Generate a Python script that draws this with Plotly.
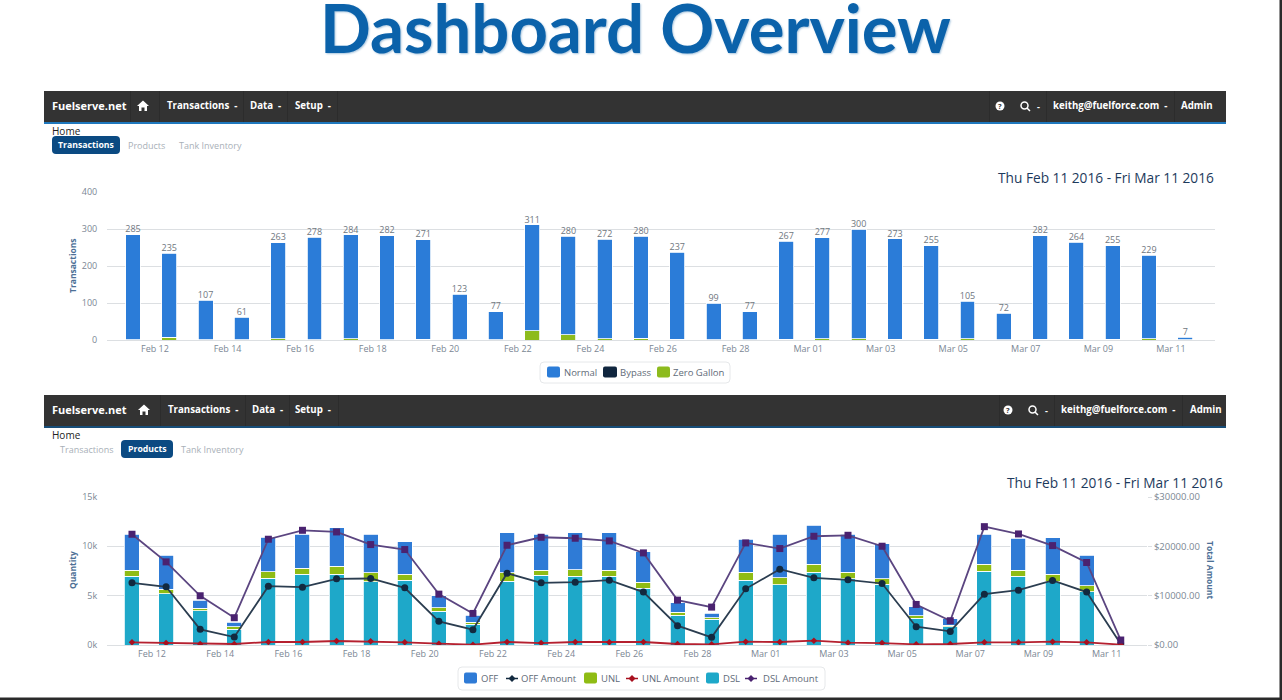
# Fuelserve dashboard overview: transactions and products charts

import plotly.graph_objects as go
from plotly.subplots import make_subplots

W, H = 1282, 700

day_index = list(range(30))
date_labels = ["Feb 12", "Feb 14", "Feb 16", "Feb 18", "Feb 20", "Feb 22", "Feb 24", "Feb 26", "Feb 28",
               "Mar 01", "Mar 03", "Mar 05", "Mar 07", "Mar 09", "Mar 11"]
label_days = [1, 3, 5, 7, 9, 11, 13, 15, 17, 19, 21, 23, 25, 27, 29]

# transactions chart
totals = [285, 235, 107, 61, 263, 278, 284, 282, 271, 123, 77, 311, 280, 272, 280, 237, 99, 77, 267, 277,
          300, 273, 255, 105, 72, 282, 264, 255, 229, 7]
zero_gallon = [1, 7, 1, 1, 3, 1, 3, 1, 2, 1, 1, 25, 14, 3, 5, 2, 1, 1, 2, 3, 3, 2, 2, 4, 1, 2, 2, 2, 3, 1]
bypass = [0] * 30
normal = [t - z - b for t, z, b in zip(totals, zero_gallon, bypass)]

# products chart, quantities
stack_total = [11220, 9100, 4550, 2300, 10900, 11200, 11900, 11200, 10450, 5000, 3000, 11400, 11200, 11360, 11360,
               9440, 4300, 3200, 10700, 11200, 12130, 11200, 10250, 3880, 2660, 11200, 10800, 10850, 9100, 100]
unl_top = [7580, 5660, 3700, 1850, 7400, 7800, 8000, 7300, 7150, 3770, 2300, 7300, 7580, 7650, 7580,
           6370, 3300, 2760, 7350, 6800, 8200, 7380, 6740, 2970, 2020, 8200, 7580, 7150, 6000, 50]
dsl_qty = [6980, 5220, 3470, 1580, 6750, 7180, 7180, 6400, 6570, 3440, 2120, 6470, 7080, 6980, 6980,
           5730, 3000, 2600, 6570, 6130, 7350, 6740, 6170, 2700, 1850, 7500, 6980, 6400, 5400, 30]
unl_qty = [t - d for t, d in zip(unl_top, dsl_qty)]
off_qty = [t - u for t, u in zip(stack_total, unl_top)]

# products chart, amounts
off_amount = [12600, 11800, 3170, 1620, 11930, 11730, 13410, 13480, 11590, 4790, 3100, 14560, 12600, 12740, 13140,
              10720, 3910, 1550, 11390, 15370, 13610, 13210, 12470, 3710, 2760, 10310, 11120, 13080, 10720, 200]
unl_amount = [540, 400, 200, 200, 610, 610, 810, 740, 540, 270, 70, 610, 400, 610, 540,
              610, 200, 130, 670, 610, 880, 470, 400, 130, 200, 540, 540, 670, 540, 70]
dsl_amount = [22450, 16850, 9980, 5530, 21440, 23250, 22920, 20360, 19350, 10310, 6400, 20220, 21840, 21640, 21100,
              18670, 9100, 7680, 20690, 19550, 22040, 22240, 20020, 8220, 4920, 23990, 22510, 20150, 16720, 1010]

FONT = "Open Sans"
GRID = "#dcdfe2"
TICK = "#7b8794"
AXIS_TITLE = "#4d7096"
LEGEND_TEXT = "#5f6b78"
DATE_RANGE = "Thu Feb 11 2016 - Fri Mar 11 2016"

C_NORMAL, C_BYPASS, C_ZERO = "#2b7cd8", "#10263f", "#8dbb1e"
C_OFF, C_UNL, C_DSL = "#2f7bd6", "#8fbc14", "#1ea8c9"
C_OFF_AMT, C_UNL_AMT, C_DSL_AMT = "#12293f", "#a8101f", "#4a2270"


def px(x):
    return x / W


def py(y):
    return 1 - y / H


shapes = []
annotations = []


def text(x, y, s, size=9, color="#ffffff", bold=False, anchor="left", angle=0, family=FONT, shadow=None):
    font = dict(family=family, size=size, color=color, weight=700 if bold else 400)
    if shadow:
        font["shadow"] = shadow
    annotations.append(dict(x=px(x), y=py(y), xref="paper", yref="paper", text=s, showarrow=False,
                            xanchor=anchor, yanchor="middle", textangle=angle, font=font,
                            borderpad=0, borderwidth=0))


def rect(x0, y0, x1, y1, fill, line=None):
    shapes.append(dict(type="rect", xref="paper", yref="paper", x0=px(x0), x1=px(x1), y0=py(y0), y1=py(y1),
                       fillcolor=fill, line=dict(width=0 if line is None else 1, color=line or fill),
                       layer="below"))


def path(points, fill):
    d = "M" + " L".join(f"{px(a):.5f},{py(b):.5f}" for a, b in points) + " Z"
    shapes.append(dict(type="path", xref="paper", yref="paper", path=d, fillcolor=fill, line=dict(width=0)))


def rounded(x0, y0, x1, y1, r):
    return (f"M{px(x0 + r)},{py(y0)} L{px(x1 - r)},{py(y0)} Q{px(x1)},{py(y0)} {px(x1)},{py(y0 + r)} "
            f"L{px(x1)},{py(y1 - r)} Q{px(x1)},{py(y1)} {px(x1 - r)},{py(y1)} L{px(x0 + r)},{py(y1)} "
            f"Q{px(x0)},{py(y1)} {px(x0)},{py(y1 - r)} L{px(x0)},{py(y0 + r)} Q{px(x0)},{py(y0)} {px(x0 + r)},{py(y0)} Z")


def navbar(top, line_color, cols):
    rect(44, top, 1226, top + 31, "#333333")
    rect(44, top + 31, 1226, top + 33, line_color)
    text(cols["brand"], top + 14.5, "Fuelserve.net", size=11, bold=True)
    hx = cols["home"]
    hy = top + 15
    path([(hx - 6, hy), (hx, hy - 5.5), (hx + 6, hy), (hx + 4, hy), (hx + 4, hy + 5), (hx + 1.5, hy + 5),
          (hx + 1.5, hy + 1.5), (hx - 1.5, hy + 1.5), (hx - 1.5, hy + 5), (hx - 4, hy + 5), (hx - 4, hy)], "#ffffff")
    text(cols["trans"], top + 14, "Transactions  -", size=9.7, bold=True)
    text(cols["data"], top + 14, "Data  -", size=9.7, bold=True)
    text(cols["setup"], top + 14, "Setup  -", size=9.7, bold=True)
    for sep in cols["seps"]:
        rect(sep, top, sep + 1, top + 31, "#2c2c2c")
    # help and search icons
    qx, sx = cols["help"], cols["search"]
    shapes.append(dict(type="circle", xref="paper", yref="paper", x0=px(qx - 4.5), x1=px(qx + 4.5),
                       y0=py(top + 19.5), y1=py(top + 10.5), fillcolor="#ffffff", line=dict(width=0)))
    text(qx, top + 15, "?", size=7.5, color="#333333", bold=True, anchor="center")
    shapes.append(dict(type="circle", xref="paper", yref="paper", x0=px(sx - 4), x1=px(sx + 3),
                       y0=py(top + 18), y1=py(top + 11), line=dict(width=1.5, color="#ffffff")))
    shapes.append(dict(type="line", xref="paper", yref="paper", x0=px(sx + 2), x1=px(sx + 5),
                       y0=py(top + 17), y1=py(top + 20), line=dict(width=1.5, color="#ffffff")))
    text(sx + 12, top + 15, "-", size=9, bold=True)
    text(cols["user"], top + 14, "keithg@fuelforce.com  -", size=9.7, bold=True)
    text(cols["admin"], top + 14, "Admin", size=9.7, bold=True)


def tabs(home_y, pill_y, items, active):
    text(52, home_y, "Home", size=10, color="#222222")
    for name, x0, x1 in items:
        if name == active:
            shapes.append(dict(type="path", xref="paper", yref="paper", fillcolor="#0b4a82", line=dict(width=0),
                               layer="below", path=rounded(x0, pill_y - 9, x1, pill_y + 9, 4)))
            text((x0 + x1) / 2, pill_y, name, size=8.7, bold=True, anchor="center")
        else:
            text((x0 + x1) / 2, pill_y, name, size=9, color="#a9b0b8", anchor="center")


def legend_box(x0, y0, x1, y1, items):
    shapes.append(dict(type="path", xref="paper", yref="paper", fillcolor="#ffffff", layer="below",
                       line=dict(width=1, color="#e6e8ea"), path=rounded(x0, y0, x1, y1, 4)))
    yc = (y0 + y1) / 2
    for name, color, kind, sx0, sx1, tx in items:
        if kind == "bar":
            shapes.append(dict(type="path", xref="paper", yref="paper", fillcolor=color, line=dict(width=0),
                               path=rounded(sx0, yc - 6, sx1, yc + 5, 2)))
        else:
            shapes.append(dict(type="line", xref="paper", yref="paper", x0=px(sx0), x1=px(sx1), y0=py(yc), y1=py(yc),
                               line=dict(width=1.5, color=color)))
            m = (sx0 + sx1) / 2
            path([(m - 3.5, yc), (m, yc - 3.5), (m + 3.5, yc), (m, yc + 3.5)], color)
        text(tx, yc, name, size=9.5, color=LEGEND_TEXT)


fig = make_subplots(rows=2, cols=1, specs=[[{}], [{"secondary_y": True}]])

bar_line = dict(color="#ffffff", width=0.8)

# top chart, green at the bottom of each stack
for name, values, color in [("Zero Gallon", zero_gallon, C_ZERO), ("Bypass", bypass, C_BYPASS),
                            ("Normal", normal, C_NORMAL)]:
    fig.add_trace(go.Bar(x=day_index, y=values, name=name, width=0.41, showlegend=False,
                         marker=dict(color=color, line=bar_line)), row=1, col=1)
fig.add_trace(go.Scatter(x=day_index, y=totals, mode="text", text=[str(t) for t in totals], textposition="top center",
                         textfont=dict(family=FONT, size=9, color="#6f7780"), showlegend=False,
                         hoverinfo="skip"), row=1, col=1)

# bottom chart
for name, values, color in [("DSL", dsl_qty, C_DSL), ("UNL", unl_qty, C_UNL), ("OFF", off_qty, C_OFF)]:
    fig.add_trace(go.Bar(x=day_index, y=values, name=name, width=0.44, showlegend=False,
                         marker=dict(color=color, line=bar_line)), row=2, col=1, secondary_y=False)
# lines read a little paler than their markers in the screenshot
for name, values, color, line_color, symbol, msize in [
    ("OFF Amount", off_amount, C_OFF_AMT, "#2b3d50", "circle", 7),
    ("UNL Amount", unl_amount, C_UNL_AMT, "#b5202f", "diamond", 5),
    ("DSL Amount", dsl_amount, C_DSL_AMT, "#5b4580", "square", 7),
]:
    fig.add_trace(go.Scatter(x=day_index, y=values, name=name, mode="lines+markers", showlegend=False,
                             line=dict(color=line_color, width=1.8),
                             marker=dict(color=color, size=msize, symbol=symbol)),
                  row=2, col=1, secondary_y=True)

# page furniture
text(635, 27, "Dashboard Overview", size=67, color="#0b62aa", bold=True, anchor="center", family="Lato",
     shadow="1px 1px 2px #a9c6de")
rect(1279.5, 0, 1282, 700, "#2a2a2a")
rect(0, 697.5, 1282, 700, "#2a2a2a")

navbar(91, "#1f78bd", dict(brand=52, home=143, trans=167, data=250, setup=295, help=1000, search=1025,
                           user=1053, admin=1181, seps=[130, 159, 243, 287, 337, 989, 1046, 1174]))
navbar(395, "#174d78", dict(brand=52, home=144, trans=168, data=252, setup=295, help=1008, search=1033,
                            user=1061, admin=1190, seps=[160, 245, 289, 338, 999, 1054, 1182]))

tabs(131, 145, [("Transactions", 52, 120), ("Products", 127, 166), ("Tank Inventory", 179, 242)], "Transactions")
tabs(435, 449, [("Transactions", 59, 114), ("Products", 121, 173), ("Tank Inventory", 180, 244)], "Products")

text(1214, 178, DATE_RANGE, size=13.7, color="#1d3a5c", anchor="right")
text(1223, 482, DATE_RANGE, size=13.7, color="#1d3a5c", anchor="right")

text(72, 266, "Transactions", size=8.5, color=AXIS_TITLE, bold=True, anchor="center", angle=-90)
text(72, 570, "Quantity", size=8.5, color=AXIS_TITLE, bold=True, anchor="center", angle=-90)
text(1211, 570, "Total Amount", size=8.5, color=AXIS_TITLE, bold=True, anchor="center", angle=90)

legend_box(540, 362, 730, 383, [
    ("Normal", C_NORMAL, "bar", 547, 560, 564),
    ("Bypass", C_BYPASS, "bar", 603, 617, 620),
    ("Zero Gallon", C_ZERO, "bar", 657, 670, 673),
])
legend_box(458, 667, 825, 690, [
    ("OFF", C_OFF, "bar", 464, 477, 481),
    ("OFF Amount", C_OFF_AMT, "line", 506, 518, 521),
    ("UNL", C_UNL, "bar", 584, 597, 601),
    ("UNL Amount", C_UNL_AMT, "line", 626, 638, 642),
    ("DSL", C_DSL, "bar", 706, 719, 723),
    ("DSL Amount", C_DSL_AMT, "line", 745, 757, 763),
])

tick_font = dict(family=FONT, size=9, color=TICK)

fig.update_layout(
    width=W, height=H, autosize=False, margin=dict(l=0, r=0, t=0, b=0, autoexpand=False),
    paper_bgcolor="#ffffff", plot_bgcolor="#ffffff", barmode="stack",
    shapes=shapes, annotations=annotations, showlegend=False,
)

# top chart axes
fig.update_xaxes(row=1, col=1, domain=[px(107), px(1215)], range=[-0.717, 29.82], showgrid=False, zeroline=False,
                 tickmode="array", tickvals=[d - 0.394 for d in label_days], ticktext=date_labels, ticks="",
                 tickfont=tick_font, showline=True, linecolor=GRID)
fig.update_yaxes(row=1, col=1, domain=[py(340), py(192)], range=[0, 400], tickvals=[0, 100, 200, 300, 400],
                 gridcolor=GRID, zeroline=False, ticks="outside", ticklen=7, tickcolor="#ffffff", tickfont=tick_font)

# bottom chart axes
fig.update_xaxes(row=2, col=1, domain=[px(107), px(1147)], range=[-0.733, 29.77], showgrid=False, zeroline=False,
                 tickmode="array", tickvals=[d - 0.413 for d in label_days], ticktext=date_labels, ticks="",
                 tickfont=tick_font, showline=True, linecolor=GRID)
fig.update_yaxes(row=2, col=1, secondary_y=False, domain=[py(645), py(497)], range=[0, 15000],
                 tickvals=[0, 5000, 10000, 15000], ticktext=["0k", "5k", "10k", "15k"], gridcolor=GRID, zeroline=False,
                 ticks="outside", ticklen=7, tickcolor="#ffffff", tickfont=tick_font)
fig.update_yaxes(row=2, col=1, secondary_y=True, range=[0, 30000], tickvals=[0, 10000, 20000, 30000],
                 ticktext=["$0.00", "$10000.00", "$20000.00", "$30000.00"], showgrid=False, zeroline=False,
                 ticks="outside", ticklen=4, tickcolor=GRID, tickfont=dict(family=FONT, size=9.5, color=TICK))

fig.write_html("out.html", config={"displayModeBar": False}, post_script="document.body.style.margin='0';")
